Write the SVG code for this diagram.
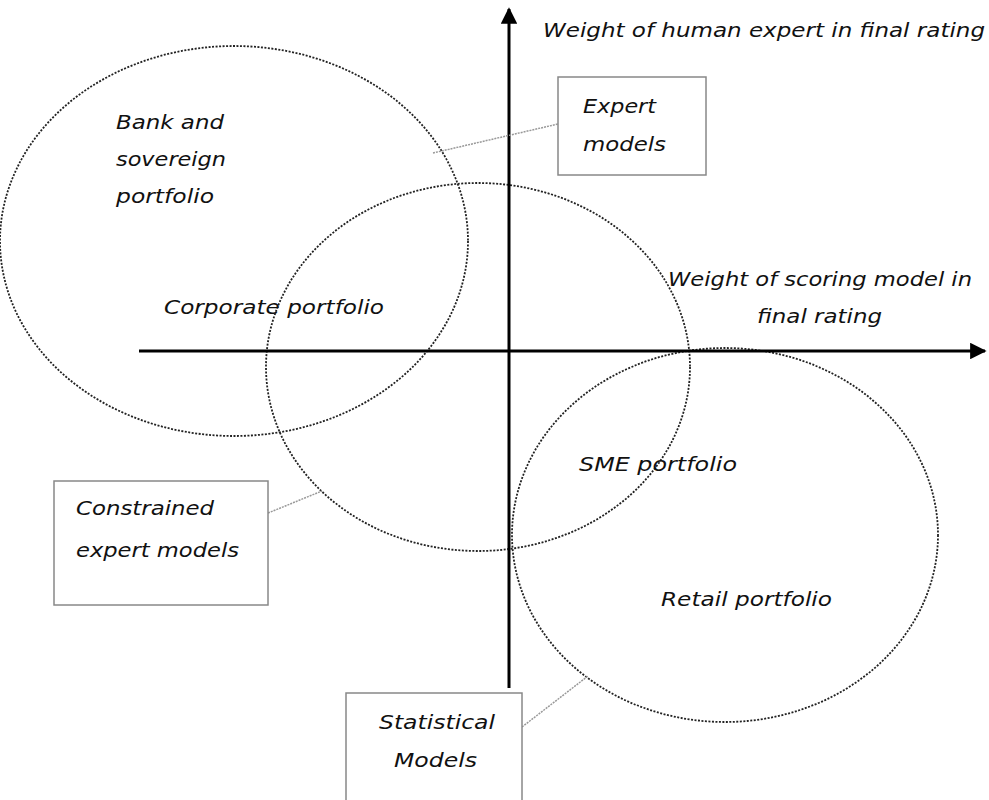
<svg xmlns="http://www.w3.org/2000/svg" width="989" height="800" viewBox="0 0 989 800">
<defs>
<marker id="ah" viewBox="0 0 10 10" refX="9" refY="5" markerWidth="5.5" markerHeight="5.5" markerUnits="strokeWidth" orient="auto">
<path d="M0,0 L10,5 L0,10 z" fill="#000"/>
</marker>
<style>
.t{font-family:"DejaVu Sans","Verdana",sans-serif;font-style:italic;font-size:19px;fill:#111}
.ell{fill:none;stroke:#222;stroke-width:1.8;stroke-dasharray:2 1.5}
.box{fill:#fff;stroke:#888;stroke-width:1.5}
.lead{fill:none;stroke:#999;stroke-width:1.5;stroke-dasharray:2 1}
.axis{fill:none;stroke:#000;stroke-width:3}
</style>
</defs>
<rect width="989" height="800" fill="#fff"/>
<g id="ellipses">
<ellipse id="bank" class="ell" cx="234" cy="241" rx="234" ry="195"/>
<ellipse id="corp" class="ell" cx="478" cy="367" rx="212" ry="184"/>
<ellipse id="retail" class="ell" cx="725" cy="535" rx="213" ry="187"/>
</g>
<g id="connectors">
<line class="axis" x1="509" y1="688" x2="509" y2="9" marker-end="url(#ah)"/>
<line class="axis" x1="139" y1="351" x2="985" y2="351" marker-end="url(#ah)"/>
<line class="lead" x1="433" y1="153" x2="558" y2="124"/>
<line class="lead" x1="268" y1="513" x2="322" y2="491"/>
<line class="lead" x1="522" y1="727" x2="588" y2="676"/>
</g>
<g id="n-expert">
<rect class="box" x="558" y="77" width="148" height="98"/>
<text class="t" x="583" y="113" textLength="73" lengthAdjust="spacingAndGlyphs">Expert</text>
<text class="t" x="583" y="151" textLength="83" lengthAdjust="spacingAndGlyphs">models</text>
</g>
<g id="n-constrained">
<rect class="box" x="54" y="481" width="214" height="124"/>
<text class="t" x="76" y="515" textLength="138" lengthAdjust="spacingAndGlyphs">Constrained</text>
<text class="t" x="76" y="557" textLength="163" lengthAdjust="spacingAndGlyphs">expert models</text>
</g>
<g id="n-statistical">
<rect class="box" x="346" y="693" width="176" height="120"/>
<text class="t" x="379" y="729" textLength="116" lengthAdjust="spacingAndGlyphs">Statistical</text>
<text class="t" x="394" y="767" textLength="83" lengthAdjust="spacingAndGlyphs">Models</text>
</g>
<g id="labels">
<text class="t" x="543" y="37" textLength="442" lengthAdjust="spacingAndGlyphs">Weight of human expert in final rating</text>
<text class="t" x="668" y="286" textLength="304" lengthAdjust="spacingAndGlyphs">Weight of scoring model in</text>
<text class="t" x="757" y="323" textLength="125" lengthAdjust="spacingAndGlyphs">final rating</text>
<text class="t" x="116" y="129" textLength="108" lengthAdjust="spacingAndGlyphs">Bank and</text>
<text class="t" x="116" y="166" textLength="110" lengthAdjust="spacingAndGlyphs">sovereign</text>
<text class="t" x="116" y="203" textLength="98" lengthAdjust="spacingAndGlyphs">portfolio</text>
<text class="t" x="164" y="314" textLength="220" lengthAdjust="spacingAndGlyphs">Corporate portfolio</text>
<text class="t" x="579" y="471" textLength="158" lengthAdjust="spacingAndGlyphs">SME portfolio</text>
<text class="t" x="661" y="606" textLength="171" lengthAdjust="spacingAndGlyphs">Retail portfolio</text>
</g>
</svg>
